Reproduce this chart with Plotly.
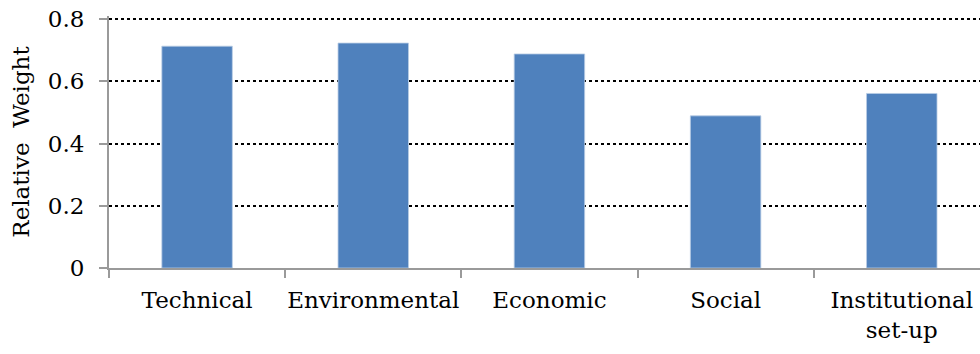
import plotly.graph_objects as go

# Relative weight of each criterion group
categories = ["Technical", "Environmental", "Economic", "Social", "Institutional<br>set-up"]
weights = [0.713, 0.723, 0.688, 0.489, 0.561]
y_ticks = [0, 0.2, 0.4, 0.6, 0.8]
y_tick_labels = ["0", "0.2", "0.4", "0.6", "0.8"]

font_family = "DejaVu Serif"
font_size = 23
axis_gray = "#9a9a9a"

fig = go.Figure(
    go.Bar(
        x=categories,
        y=weights,
        marker=dict(color="#4F81BD", line=dict(color="#b9cde5", width=0.8)),
        width=0.4,
    )
)

fig.update_layout(
    width=980,
    height=354,
    margin=dict(l=109, r=0, t=16, b=86, autoexpand=False),
    plot_bgcolor="white",
    paper_bgcolor="white",
    showlegend=False,
    font=dict(family=font_family, size=font_size, color="black"),
)

fig.update_xaxes(
    type="category",
    range=[-0.5, 4.444],
    tickson="boundaries",
    ticks="outside",
    ticklen=8,
    tickwidth=1.5,
    tickcolor=axis_gray,
    showline=True,
    linecolor=axis_gray,
    linewidth=2,
    showgrid=False,
    tickangle=0,
    automargin=False,
    ticklabelstandoff=10,
    tickfont=dict(family=font_family, size=font_size, color="black"),
)

fig.update_yaxes(
    range=[0, 0.81],
    tickvals=y_ticks,
    ticktext=y_tick_labels,
    ticks="outside",
    ticklen=8,
    tickwidth=1.5,
    tickcolor=axis_gray,
    showline=True,
    linecolor=axis_gray,
    linewidth=2,
    showgrid=True,
    gridcolor="black",
    gridwidth=1.5,
    griddash="dot",
    zeroline=False,
    automargin=False,
    ticklabelstandoff=10,
    tickfont=dict(family=font_family, size=font_size, color="black"),
    title=dict(text="Relative  Weight", font=dict(family=font_family, size=font_size, color="black"), standoff=12),
)

fig.write_html("out.html")
